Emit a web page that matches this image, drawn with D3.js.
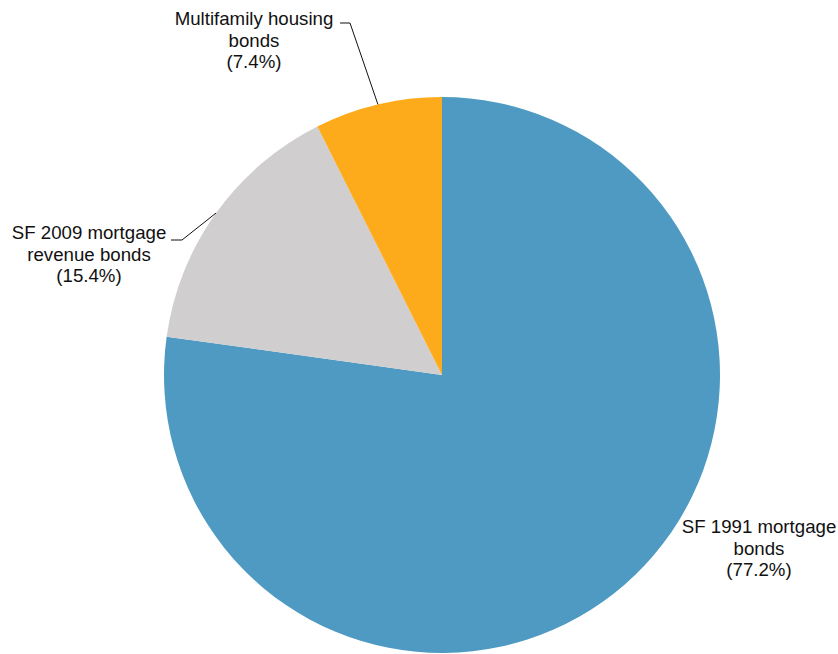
<!DOCTYPE html>
<html>
<head>
<meta charset="utf-8">
<script src="https://cdn.jsdelivr.net/npm/d3@7"></script>
<style>
  body { margin: 0; background: #fff; }
  text { font-family: "Liberation Sans", Arial, sans-serif; font-size: 18.67px; fill: #111; }
</style>
</head>
<body>
<svg id="chart" width="838" height="654"></svg>
<script>
// data
var categories = ["SF 1991 mortgage bonds", "SF 2009 mortgage revenue bonds", "Multifamily housing bonds"];
var values = [77.2, 15.4, 7.4];
var colors = ["#4f9ac2", "#d0cecf", "#fdab1a"];
var labelLines = [
  ["SF 1991 mortgage", "bonds"],
  ["SF 2009 mortgage", "revenue bonds"],
  ["Multifamily housing", "bonds"]
];

// label placement (text centre x, first baseline y, elbow point or null)
var labelLayout = [
  {x: 759, y: 533, elbow: null},
  {x: 89, y: 239, elbow: [182, 240], tail: 171},
  {x: 254, y: 25, elbow: [350, 23], tail: 340}
];

var W = 838, H = 654;
var cx = 442, cy = 375, R = 278;

var svg = d3.select("#chart");
var g = svg.append("g").attr("transform", "translate(" + cx + "," + cy + ")");

var pie = d3.pie().sort(null).value(function(d){ return d; });
var arcs = pie(values);

var arc = d3.arc().innerRadius(0).outerRadius(R);
var edge = d3.arc().innerRadius(R).outerRadius(R);

g.selectAll("path.slice")
  .data(arcs)
  .enter().append("path")
  .attr("class", "slice")
  .attr("d", arc)
  .attr("fill", function(d, i){ return colors[i]; });

// leader lines
arcs.forEach(function(d, i){
  var lay = labelLayout[i];
  if (!lay.elbow) return;
  var p = edge.centroid(d);
  var pts = [[p[0] + cx, p[1] + cy], lay.elbow, [lay.tail, lay.elbow[1]]];
  svg.append("path")
    .attr("d", d3.line()(pts))
    .attr("fill", "none")
    .attr("stroke", "#111")
    .attr("stroke-width", 1);
});

// labels
arcs.forEach(function(d, i){
  var lay = labelLayout[i];
  var lines = labelLines[i].concat(["(" + values[i].toFixed(1) + "%)"]);
  var t = svg.append("text")
    .attr("text-anchor", "middle")
    .attr("x", lay.x)
    .attr("y", lay.y);
  lines.forEach(function(s, k){
    t.append("tspan")
      .attr("x", lay.x)
      .attr("dy", k == 0 ? 0 : 21.7)
      .text(s);
  });
});
</script>
</body>
</html>
